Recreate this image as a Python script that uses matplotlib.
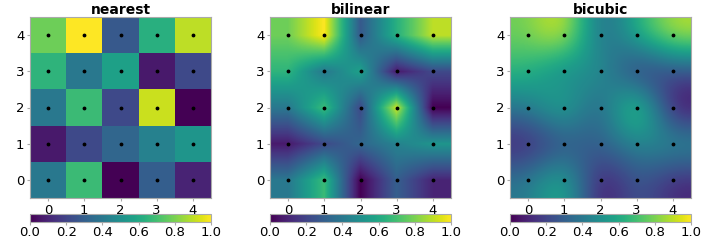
import numpy as np
import matplotlib
matplotlib.use("Agg")
import matplotlib.pyplot as plt

# grid values, row 0 at the bottom (origin='lower')
row0 = [0.40, 0.68, 0.00, 0.30, 0.10]
row1 = [0.07, 0.22, 0.33, 0.44, 0.52]
row2 = [0.40, 0.68, 0.22, 0.92, 0.00]
row3 = [0.65, 0.40, 0.57, 0.07, 0.22]
row4 = [0.78, 1.00, 0.28, 0.63, 0.90]
methods = ["nearest", "bilinear", "bicubic"]
ticks = [0, 1, 2, 3, 4]
cbar_ticks = [0.0, 0.2, 0.4, 0.6, 0.8, 1.0]

data = np.array([row0, row1, row2, row3, row4])
xx, yy = np.meshgrid(ticks, ticks)

fig = plt.figure(figsize=(7.2, 2.4), dpi=100)
lefts = [30, 270, 510]
edge = "#aaaaaa"

for left, method in zip(lefts, methods):
    ax = fig.add_axes([left / 720, 42 / 240, 181 / 720, 181 / 240])
    im = ax.imshow(data, origin="lower", cmap="viridis", vmin=0, vmax=1,
                   interpolation=method)
    ax.plot(xx.ravel(), yy.ravel(), "k.", markersize=3.5)
    ax.set_xticks(ticks)
    ax.set_yticks(ticks)
    ax.set_title(method, fontsize=10, fontweight="bold", pad=2)
    ax.tick_params(labelsize=9.5, color=edge, length=2.5, pad=1.5)
    for s in ax.spines.values():
        s.set_color(edge)

    cax = fig.add_axes([left / 720, 18 / 240, 181 / 720, 8 / 240])
    cb = fig.colorbar(im, cax=cax, orientation="horizontal", ticks=cbar_ticks)
    cb.outline.set_edgecolor(edge)
    cax.tick_params(labelsize=9.5, color=edge, length=2, pad=1)

fig.savefig("out.png", dpi=100)
